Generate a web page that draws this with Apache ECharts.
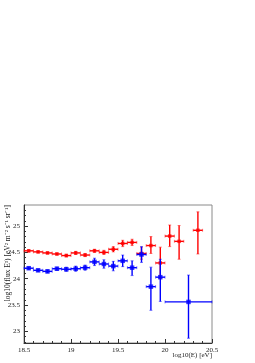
<!DOCTYPE html>
<html><head><meta charset="utf-8">
<script src="https://cdn.jsdelivr.net/npm/echarts@6/dist/echarts.min.js"></script>
<style>html,body{margin:0;padding:0;background:#fff}#c{width:255px;height:363px}</style>
</head><body><div id="c"></div>
<script>
// ---- data ----
var redX    = [18.55,18.65,18.75,18.85,18.95,19.05,19.15,19.25,19.35,19.45,19.55,19.65,19.75,19.85,19.95,20.05,20.15,20.35];
var redY    = [24.53,24.51,24.49,24.47,24.44,24.49,24.45,24.53,24.50,24.56,24.67,24.69,24.48,24.63,24.30,24.81,24.71,24.92];
var redLow  = [24.51,24.49,24.47,24.45,24.415,24.46,24.42,24.50,24.46,24.51,24.61,24.63,24.37,24.48,24.00,24.61,24.37,24.47];
var redHigh = [24.55,24.53,24.51,24.49,24.465,24.52,24.48,24.56,24.54,24.61,24.73,24.75,24.60,24.80,24.60,25.02,25.01,25.27];
var redXErr = [0.05,0.05,0.05,0.05,0.05,0.05,0.05,0.05,0.05,0.05,0.05,0.05,0.05,0.05,0.05,0.05,0.05,0.05];

var blueX    = [18.55,18.65,18.75,18.85,18.95,19.05,19.15,19.25,19.35,19.45,19.55,19.65,19.75,19.85,19.95,20.25];
var blueY    = [24.20,24.16,24.14,24.19,24.18,24.19,24.21,24.32,24.28,24.24,24.34,24.21,24.46,23.85,24.03,23.56];
var blueLow  = [24.175,24.135,24.11,24.16,24.14,24.14,24.16,24.25,24.20,24.15,24.23,24.06,24.31,23.40,23.57,22.87];
var blueHigh = [24.225,24.185,24.17,24.22,24.22,24.24,24.26,24.39,24.36,24.33,24.45,24.34,24.61,24.22,24.37,24.07];
var blueXErr = [0.05,0.05,0.05,0.05,0.05,0.05,0.05,0.05,0.05,0.05,0.05,0.05,0.05,0.05,0.05,0.25];

var xTickLabels = ['18.5','19','19.5','20','20.5'];
var yMajorTicks = [23,23.5,24,24.5,25];
var yMinorTicks = [22.8,22.9,23.1,23.2,23.3,23.4,23.6,23.7,23.8,23.9,24.1,24.2,24.3,24.4,24.6,24.7,24.8,24.9,25.1,25.2,25.3];
var xTitle = 'log10(E) [eV]';
var yTitle = 'log10(flux E\u00b3) [eV\u00b2 m\u207b\u00b2 s\u207b\u00b9 sr\u207b\u00b9]';

// ---- chart ----
var FONT = 'Liberation Serif';
var chart = echarts.init(document.getElementById('c'), null, {renderer:'canvas'});

function errData(xs, ys, lo, hi, xe){
  return xs.map(function(x,i){ return [x, ys[i], lo[i], hi[i], xe[i]]; });
}
function errRender(color){
  return function(params, api){
    var x = api.value(0), y = api.value(1), lo = api.value(2), hi = api.value(3), xe = api.value(4);
    var pL = api.coord([x - xe, y]), pR = api.coord([x + xe, y]);
    var pLo = api.coord([x, lo]), pHi = api.coord([x, hi]);
    var st = {stroke: color, lineWidth: 1.4};
    var cap = 1.5;
    return {type:'group', children:[
      {type:'line', shape:{x1:pL[0], y1:pL[1], x2:pR[0], y2:pR[1]}, style:st},
      {type:'line', shape:{x1:pLo[0], y1:pLo[1], x2:pHi[0], y2:pHi[1]}, style:st},
      {type:'line', shape:{x1:pL[0], y1:pL[1]-cap, x2:pL[0], y2:pL[1]+cap}, style:{stroke:color, lineWidth:1, opacity:0.5}},
      {type:'line', shape:{x1:pR[0], y1:pR[1]-cap, x2:pR[0], y2:pR[1]+cap}, style:{stroke:color, lineWidth:1, opacity:0.5}},
      {type:'line', shape:{x1:pLo[0]-cap, y1:pLo[1], x2:pLo[0]+cap, y2:pLo[1]}, style:{stroke:color, lineWidth:1, opacity:0.5}},
      {type:'line', shape:{x1:pHi[0]-cap, y1:pHi[1], x2:pHi[0]+cap, y2:pHi[1]}, style:{stroke:color, lineWidth:1, opacity:0.5}}
    ]};
  };
}

var yMin = 22.78, yMax = 25.4;
var option = {
  animation: false,
  grid: {left:24, right:43, top:205, bottom:20, show:true, borderColor:'#8a8a8a', borderWidth:1, backgroundColor:'transparent'},
  xAxis: {
    type:'value', min:18.5, max:20.5, interval:0.5,
    axisLine:{show:true, onZero:false, lineStyle:{color:'#333', width:1}},
    axisTick:{show:true, inside:true, length:4, lineStyle:{color:'#333'}},
    minorTick:{show:true, splitNumber:5, length:2, lineStyle:{color:'#333'}},
    splitLine:{show:false},
    axisLabel:{fontFamily:FONT, fontSize:7, color:'#222', margin:4,
      formatter:function(v){ var s = xTickLabels[Math.round((v-18.5)/0.5)]; return s===undefined?'':s; }}
  },
  yAxis: [{
    type:'value', min:yMin, max:yMax,
    axisLine:{show:true, onZero:false, lineStyle:{color:'#333', width:1}},
    axisTick:{show:true, inside:true, length:4, customValues:yMajorTicks, lineStyle:{color:'#333'}},
    splitLine:{show:false},
    axisLabel:{fontFamily:FONT, fontSize:7, color:'#222', margin:4, customValues:yMajorTicks,
      formatter:function(v){ return String(Math.round(v*10)/10); }}
  },{
    type:'value', min:yMin, max:yMax, position:'left',
    axisLine:{show:false},
    axisTick:{show:true, inside:true, length:2, customValues:yMinorTicks, lineStyle:{color:'#333'}},
    axisLabel:{show:false, customValues:yMinorTicks},
    splitLine:{show:false}
  }],
  graphic: [
    {type:'text', x:212, y:355, style:{text:xTitle, font:'7px "Liberation Serif"', fill:'#222', textAlign:'right', textVerticalAlign:'middle'}},
    {type:'text', x:8, y:205, rotation:Math.PI/2, style:{text:yTitle, font:'7.5px "Liberation Serif"', fill:'#222', textAlign:'right', textVerticalAlign:'middle'}}
  ],
  series: [
    {type:'custom', renderItem:errRender('#ff0000'), data:errData(redX, redY, redLow, redHigh, redXErr), z:2,
      encode:{x:0, y:[1,2,3]}},
    {type:'scatter', data:redX.map(function(x,i){return [x, redY[i]];}), symbol:'rect', symbolSize:3.5,
      itemStyle:{color:'#ff0000'}, z:3},
    {type:'custom', renderItem:errRender('#0000ff'), data:errData(blueX, blueY, blueLow, blueHigh, blueXErr), z:4,
      encode:{x:0, y:[1,2,3]}},
    {type:'scatter', data:blueX.map(function(x,i){return [x, blueY[i]];}), symbol:'rect', symbolSize:4.5,
      itemStyle:{color:'#0000ff'}, z:5}
  ]
};
chart.setOption(option);
</script>
</body></html>
